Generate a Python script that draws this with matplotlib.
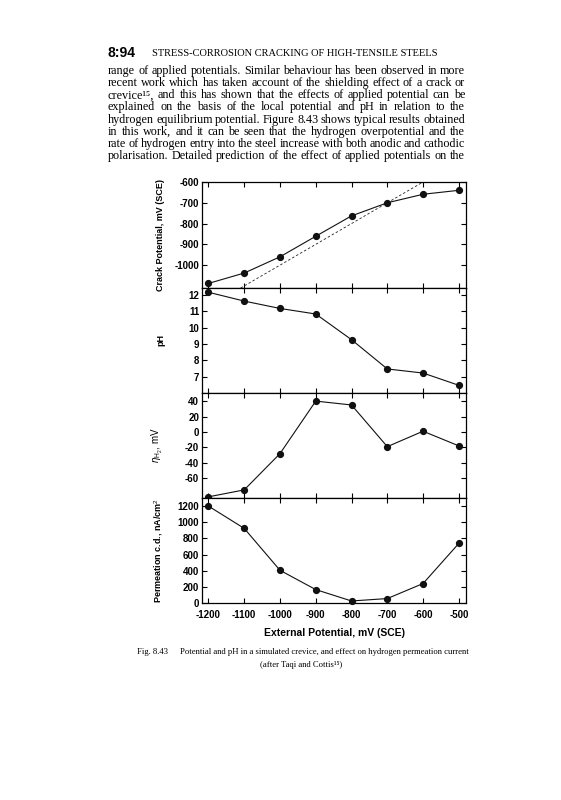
import numpy as np
import matplotlib.pyplot as plt

plt.rcParams['axes.unicode_minus'] = False
plt.rcParams['mathtext.fontset'] = 'custom'
plt.rcParams['mathtext.rm'] = 'Liberation Sans'
plt.rcParams['mathtext.it'] = 'Liberation Sans:italic'
plt.rcParams['mathtext.bf'] = 'Liberation Sans:bold'

W, H = 561, 800

# data
potential = [-1200, -1100, -1000, -900, -800, -700, -600, -500]
crack_potential = [-1088, -1038, -960, -861, -763, -700, -659, -640]
ph = [12.16, 11.62, 11.17, 10.83, 9.26, 7.47, 7.22, 6.47]
eta_h2 = [-84, -75, -28, 40, 35, -19, 1, -18]
permeation = [1200, 924, 405, 166, 25, 55, 241, 738]
identity_x = [-1110, -600]

x_ticks = [-1200, -1100, -1000, -900, -800, -700, -600, -500]
x_labels = ['-1200', '-1100', '-1000', '-900', '-800', '-700', '-600', '-500']

paragraph = [
    "range of applied potentials. Similar behaviour has been observed in more",
    "recent work which has taken account of the shielding effect of a crack or",
    "crevice\u00b9\u2075, and this has shown that the effects of applied potential can be",
    "explained on the basis of the local potential and pH in relation to the",
    "hydrogen equilibrium potential. Figure 8.43 shows typical results obtained",
    "in this work, and it can be seen that the hydrogen overpotential and the",
    "rate of hydrogen entry into the steel increase with both anodic and cathodic",
    "polarisation. Detailed prediction of the effect of applied potentials on the",
]

SANS = ['Liberation Sans', 'DejaVu Sans']
SERIF = ['Liberation Serif', 'DejaVu Serif']

fig = plt.figure(figsize=(W / 100, H / 100), dpi=100)
fig.patch.set_facecolor('white')


def fx(px):
    return px / W


def fy(py):
    return 1 - py / H


# ---- page text ----
fig.text(fx(108), fy(53), "8:94", fontsize=10, fontweight='bold', family=SANS, va='center')
fig.text(fx(152), fy(53), "STRESS-CORROSION CRACKING OF HIGH-TENSILE STEELS",
         fontsize=7.5, family=SERIF, va='center')

renderer = fig.canvas.get_renderer()
left, right = 108, 465
for i, line in enumerate(paragraph):
    y = 71 + 12.15 * i
    words = line.split(' ')
    texts = [fig.text(0, fy(y), w, fontsize=8.7, family=SERIF, va='center') for w in words]
    widths = [t.get_window_extent(renderer=renderer).width for t in texts]
    gap = (right - left - sum(widths)) / (len(words) - 1)
    x = left
    for t, w in zip(texts, widths):
        t.set_x(fx(x))
        x += w + gap

# ---- chart ----
panel_edges = [182, 288, 393, 498, 603]
ax_left, ax_right = 202, 466
axes = []
for i in range(4):
    top, bottom = panel_edges[i], panel_edges[i + 1]
    ax = fig.add_axes([fx(ax_left), fy(bottom), (ax_right - ax_left) / W, (bottom - top) / H])
    axes.append(ax)

series = [crack_potential, ph, eta_h2, permeation]
ylims = [(-1110, -600), (6.0, 12.42), (-85.5, 50.5), (0, 1300)]
yticks = [[-1000, -900, -800, -700, -600],
          [7, 8, 9, 10, 11, 12],
          [-60, -40, -20, 0, 20, 40],
          [0, 200, 400, 600, 800, 1000, 1200]]
ylabels = ['Crack Potential, mV (SCE)', 'pH', r'$\eta_{\mathrm{H_2}}$, mV',
           'Permeation c.d., nA/cm$^2$']

for ax, vals, yl, yt, lab in zip(axes, series, ylims, yticks, ylabels):
    ax.plot(potential, vals, color='#111111', lw=0.8, marker='o', ms=4.2, clip_on=False, zorder=3)
    ax.set_xlim(-1218, -480)
    ax.set_ylim(*yl)
    ax.set_xticks(x_ticks)
    ax.set_yticks(yt)
    ax.set_yticklabels([str(v) for v in yt])
    ax.tick_params(direction='in', length=3.5, width=0.8, top=True, right=True,
                   labelsize=7, pad=2)
    for sp in ax.spines.values():
        sp.set_linewidth(0.9)
    for t in ax.get_yticklabels():
        t.set_fontweight('bold')
        t.set_family(SANS)
    ax.set_ylabel(lab, fontsize=6.5, fontweight='bold', family=SANS)
    ax.yaxis.set_label_coords(-0.14, 0.5)
    ax.set_xticklabels([])

axes[0].plot(identity_x, identity_x, color='#222222', lw=0.6, ls=(0, (3, 2.5)), zorder=2)
axes[2].yaxis.label.set_fontweight('normal')
axes[2].yaxis.label.set_fontsize(7)

bottom_ax = axes[3]
bottom_ax.set_xticklabels(x_labels)
bottom_ax.tick_params(axis='x', pad=5)
for t in bottom_ax.get_xticklabels():
    t.set_fontweight('bold')
    t.set_family(SANS)
bottom_ax.set_xlabel('External Potential, mV (SCE)', fontsize=7.5, fontweight='bold',
                     family=SANS, labelpad=6)

# ---- caption ----
fig.text(fx(137), fy(652), "Fig. 8.43", fontsize=6.2, family=SERIF, va='center')
fig.text(fx(180), fy(652),
         "Potential and pH in a simulated crevice, and effect on hydrogen permeation current",
         fontsize=6.2, family=SERIF, va='center')
fig.text(fx(301), fy(665), "(after Taqi and Cottis\u00b9\u2075)", fontsize=6.2, family=SERIF,
         va='center', ha='center')

fig.savefig('out.png', dpi=100)
